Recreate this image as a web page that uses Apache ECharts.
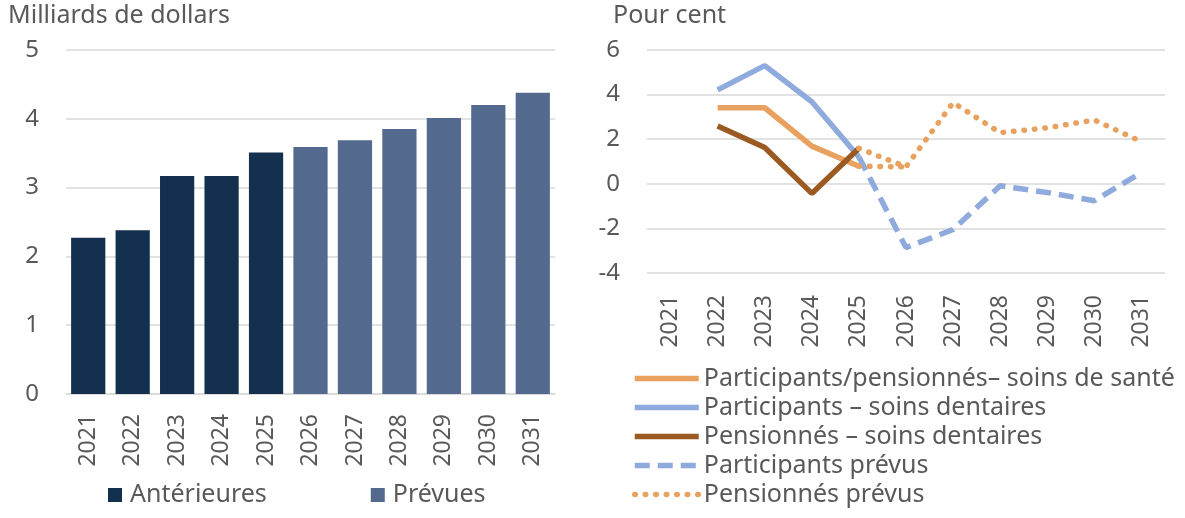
<!DOCTYPE html>
<html>
<head>
<meta charset="utf-8">
<script src="https://cdn.jsdelivr.net/npm/echarts@6/dist/echarts.min.js"></script>
<style>
  html, body { margin: 0; padding: 0; background: #fff; }
  #chart { width: 1185px; height: 518px; }
</style>
</head>
<body>
<div id="chart"></div>
<script>
// data
var years = ['2021', '2022', '2023', '2024', '2025', '2026', '2027', '2028', '2029', '2030', '2031'];
var pastCost = [2.27, 2.38, 3.17, 3.17, 3.51, null, null, null, null, null, null];
var projCost = [null, null, null, null, null, 3.59, 3.69, 3.85, 4.01, 4.20, 4.38];

var healthAll = [null, 3.41, 3.41, 1.69, 0.79, null, null, null, null, null, null];
var dentalMembers = [null, 4.21, 5.30, 3.68, 1.2, null, null, null, null, null, null];
var dentalRetirees = [null, 2.59, 1.63, -0.43, 1.59, null, null, null, null, null, null];
var membersProj = [null, null, null, null, 1.2, -2.86, -2.05, -0.09, -0.39, -0.76, 0.51];
var retireesProj = [null, null, null, null, 1.59, 0.76, 3.64, 2.29, 2.51, 2.86, 1.89];
var healthProjLink = [null, null, null, null, 0.79, 0.76, null, null, null, null, null];

var FONT = '"Noto Sans", "Open Sans", sans-serif';
var GREY = '#595959';
var GRIDC = '#d9d9d9';

var chart = echarts.init(document.getElementById('chart'));

function lineSeries(name, data, color, type) {
  var dotted = Array.isArray(type) && type[0] < 2;
  return {
    name: name,
    type: 'line',
    xAxisIndex: 1,
    yAxisIndex: 1,
    data: data,
    symbol: 'none',
    lineStyle: { color: color, width: 5.5, type: type, cap: dotted ? 'round' : 'butt' },
    itemStyle: { color: color }
  };
}

chart.setOption({
  animation: false,
  textStyle: { fontFamily: FONT },
  title: [
    { text: 'Milliards de dollars', left: 8, top: 3, padding: 0, textStyle: { fontFamily: FONT, fontSize: 25, fontWeight: 'normal', color: GREY } },
    { text: 'Pour cent', left: 613, top: 3, padding: 0, textStyle: { fontFamily: FONT, fontSize: 25, fontWeight: 'normal', color: GREY } }
  ],
  grid: [
    { left: 66, right: 630, top: 50, bottom: 124 },
    { left: 647, right: 20, top: 50, bottom: 245 }
  ],
  legend: [
    {
      data: ['Antérieures', 'Prévues'],
      left: 108, top: 481, padding: 0,
      icon: 'rect', itemWidth: 14, itemHeight: 14, itemGap: 104,
      textStyle: { fontFamily: FONT, fontSize: 25, lineHeight: 28, color: GREY, padding: [0, 0, 0, 3] }
    },
    {
      data: ['Participants/pensionnés– soins de santé', 'Participants – soins dentaires',
        'Pensionnés – soins dentaires', 'Participants prévus', 'Pensionnés prévus'],
      orient: 'vertical',
      left: 632, top: 364, padding: 0, height: 154,
      itemWidth: 64, itemHeight: 14, itemGap: 0,
      itemStyle: { opacity: 0 },
      lineStyle: { width: 5.5 },
      textStyle: { fontFamily: FONT, fontSize: 25, lineHeight: 29, color: GREY, padding: [0, 0, 0, 0] }
    }
  ],
  xAxis: [
    {
      type: 'category', gridIndex: 0, data: years,
      axisLine: { show: true, lineStyle: { color: GRIDC, width: 1.5 } },
      axisTick: { show: false },
      axisLabel: { rotate: 90, fontSize: 23, color: GREY, margin: 20, fontFamily: FONT }
    },
    {
      type: 'category', gridIndex: 1, data: years,
      axisLine: { show: false },
      axisTick: { show: false },
      axisLabel: { rotate: 90, fontSize: 23, color: GREY, margin: 22, fontFamily: FONT }
    }
  ],
  yAxis: [
    {
      type: 'value', gridIndex: 0, min: 0, max: 5, interval: 1,
      axisLine: { show: false }, axisTick: { show: false },
      axisLabel: { fontSize: 24, color: GREY, margin: 27, fontFamily: FONT },
      splitLine: { lineStyle: { color: GRIDC, width: 1.5 } }
    },
    {
      type: 'value', gridIndex: 1, min: -4, max: 6, interval: 2,
      axisLine: { show: false }, axisTick: { show: false },
      axisLabel: { fontSize: 24, color: GREY, margin: 27, fontFamily: FONT },
      splitLine: { lineStyle: { color: GRIDC, width: 1.5 } }
    }
  ],
  series: [
    {
      name: 'Antérieures', type: 'bar', xAxisIndex: 0, yAxisIndex: 0,
      data: pastCost, barCategoryGap: '23%', barGap: '-100%',
      itemStyle: { color: '#14304f' }
    },
    {
      name: 'Prévues', type: 'bar', xAxisIndex: 0, yAxisIndex: 0,
      data: projCost, barCategoryGap: '23%', barGap: '-100%',
      itemStyle: { color: '#536a8e' }
    },
    lineSeries('Participants/pensionnés– soins de santé', healthAll, '#e9a15f', 'solid'),
    lineSeries('Participants – soins dentaires', dentalMembers, '#8faadc', 'solid'),
    lineSeries('Pensionnés – soins dentaires', dentalRetirees, '#9b5a22', 'solid'),
    lineSeries('Participants prévus', membersProj, '#8faadc', [15, 8]),
    lineSeries('Pensionnés prévus', retireesProj, '#e9a15f', [0.5, 10]),
    lineSeries('healthProjLink', healthProjLink, '#e9a15f', [0.5, 10])
  ]
});
</script>
</body>
</html>
